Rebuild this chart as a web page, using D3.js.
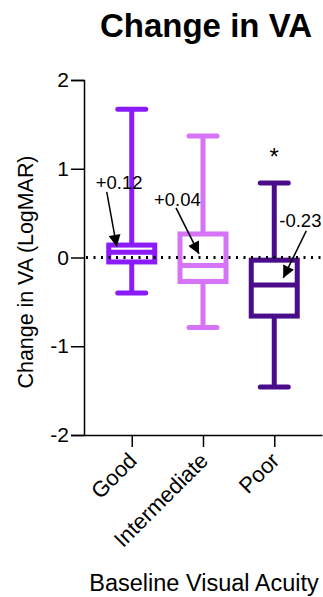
<!DOCTYPE html>
<html>
<head>
<meta charset="utf-8">
<script src="https://cdn.jsdelivr.net/npm/d3@7/dist/d3.min.js"></script>
<style>
  html, body { margin: 0; padding: 0; background: #fff; }
  svg { display: block; font-family: "Liberation Sans", Arial, sans-serif; }
</style>
</head>
<body>
<svg id="chart" width="323" height="597"></svg>
<script>
// ---- Data ----
const categories = ["Good", "Intermediate", "Poor"];
const whiskerHigh = [1.67, 1.37, 0.84];
const q3Values    = [0.14, 0.265, -0.03];
const medians     = [0.06, -0.09, -0.31];
const q1Values    = [-0.05, -0.27, -0.66];
const whiskerLow  = [-0.40, -0.79, -1.46];
const meanValues  = [0.12, 0.04, -0.23];
const meanLabels  = ["+0.12", "+0.04", "-0.23"];
const significance = ["", "", "*"];
const yTicks = [2, 1, 0, -1, -2];
const colors = ["#8B1BF9", "#D673F7", "#4B0C8C"];

// ---- Layout ----
const svg = d3.select("#chart");
const plotLeft = 84, plotRight = 322, plotTop = 80, plotBottom = 435;

const y = d3.scaleLinear().domain([-2, 2]).range([plotBottom, plotTop]);
const x = d3.scalePoint().domain(categories).range([plotLeft, plotRight]).padding(0.67);

// Title
svg.append("text")
  .attr("x", 206).attr("y", 37)
  .attr("text-anchor", "middle")
  .attr("font-size", 33).attr("font-weight", "bold")
  .text("Change in VA");

// Y axis
const yAxis = svg.append("g")
  .attr("transform", `translate(${plotLeft},0)`)
  .call(d3.axisLeft(y).tickValues(yTicks).tickSize(13).tickPadding(2).tickFormat(d3.format("d")));
yAxis.select(".domain").attr("stroke", "#000").attr("stroke-width", 1.5);
yAxis.selectAll(".tick line").attr("stroke", "#000").attr("stroke-width", 1.5);
yAxis.selectAll(".tick text").attr("font-size", 21).attr("fill", "#000")
  .attr("font-family", "Liberation Sans, Arial, sans-serif")
  .text(d => d < 0 ? "-" + Math.abs(d) : d);

// X axis
const xAxis = svg.append("g")
  .attr("transform", `translate(0,${plotBottom})`)
  .call(d3.axisBottom(x).tickSize(12).tickSizeOuter(0));
xAxis.select(".domain").attr("stroke", "#000").attr("stroke-width", 1.5);
xAxis.selectAll(".tick line").attr("stroke", "#000").attr("stroke-width", 1.5);
xAxis.selectAll(".tick text")
  .attr("font-size", 22).attr("fill", "#000")
  .attr("font-family", "Liberation Sans, Arial, sans-serif")
  .attr("text-anchor", "end")
  .attr("dy", null)
  .attr("y", 0)
  .attr("transform", "translate(6,27) rotate(-45)");

// Axis titles
svg.append("text")
  .attr("transform", "translate(33,272) rotate(-90)")
  .attr("text-anchor", "middle")
  .attr("font-size", 22)
  .attr("textLength", 233)
  .attr("lengthAdjust", "spacingAndGlyphs")
  .text("Change in VA (LogMAR)");

svg.append("text")
  .attr("x", 204).attr("y", 591)
  .attr("text-anchor", "middle")
  .attr("font-size", 23.5)
  .text("Baseline Visual Acuity");

// Boxes
const boxW = 46, capW = 28, sw = 5;
const g = svg.append("g");
categories.forEach((c, i) => {
  const cx = x(c);
  const col = colors[i];
  g.append("line").attr("x1", cx).attr("x2", cx)
    .attr("y1", y(whiskerHigh[i])).attr("y2", y(q3Values[i]))
    .attr("stroke", col).attr("stroke-width", sw);
  g.append("line").attr("x1", cx).attr("x2", cx)
    .attr("y1", y(q1Values[i])).attr("y2", y(whiskerLow[i]))
    .attr("stroke", col).attr("stroke-width", sw);
  [whiskerHigh[i], whiskerLow[i]].forEach(v => {
    g.append("line").attr("x1", cx - capW / 2).attr("x2", cx + capW / 2)
      .attr("y1", y(v)).attr("y2", y(v))
      .attr("stroke", col).attr("stroke-width", sw).attr("stroke-linecap", "round");
  });
  g.append("rect")
    .attr("x", cx - boxW / 2).attr("width", boxW)
    .attr("y", y(q3Values[i])).attr("height", y(q1Values[i]) - y(q3Values[i]))
    .attr("fill", "#fff").attr("stroke", col).attr("stroke-width", sw);
  g.append("line").attr("x1", cx - boxW / 2).attr("x2", cx + boxW / 2)
    .attr("y1", y(medians[i])).attr("y2", y(medians[i]))
    .attr("stroke", col).attr("stroke-width", sw);
});

// Dotted zero line
svg.append("line")
  .attr("x1", plotLeft + 2).attr("x2", plotRight)
  .attr("y1", y(0)).attr("y2", y(0))
  .attr("stroke", "#000").attr("stroke-width", 3)
  .attr("stroke-dasharray", "2,5.5").attr("stroke-linecap", "butt");

// Significance
categories.forEach((c, i) => {
  if (!significance[i]) return;
  svg.append("text")
    .attr("x", x(c)).attr("y", y(whiskerHigh[i]) - 18)
    .attr("text-anchor", "middle")
    .attr("font-size", 24)
    .text(significance[i]);
});

// Mean annotations with arrows
svg.append("defs").append("marker")
  .attr("id", "arrow").attr("viewBox", "0 0 10 10")
  .attr("refX", 10).attr("refY", 5)
  .attr("markerWidth", 14).attr("markerHeight", 12)
  .attr("markerUnits", "userSpaceOnUse")
  .attr("orient", "auto")
  .append("path").attr("d", "M0,0 L10,5 L0,10 Z").attr("fill", "#000");

const tipDx = [-15, -4, 9];
const tailDx = [-25, -27, 32];
const tailDy = [-55, -46, -47];
const textDx = [-36, -49, 5];
const textDy = [-58, -48, -51];
categories.forEach((c, i) => {
  const cx = x(c), ty = y(meanValues[i]);
  svg.append("line")
    .attr("x1", cx + tailDx[i]).attr("y1", ty + tailDy[i])
    .attr("x2", cx + tipDx[i]).attr("y2", ty)
    .attr("stroke", "#000").attr("stroke-width", 1.5)
    .attr("marker-end", "url(#arrow)");
  svg.append("text")
    .attr("x", cx + textDx[i]).attr("y", ty + textDy[i])
    .attr("font-size", 18.5)
    .text(meanLabels[i]);
});
</script>
</body>
</html>
